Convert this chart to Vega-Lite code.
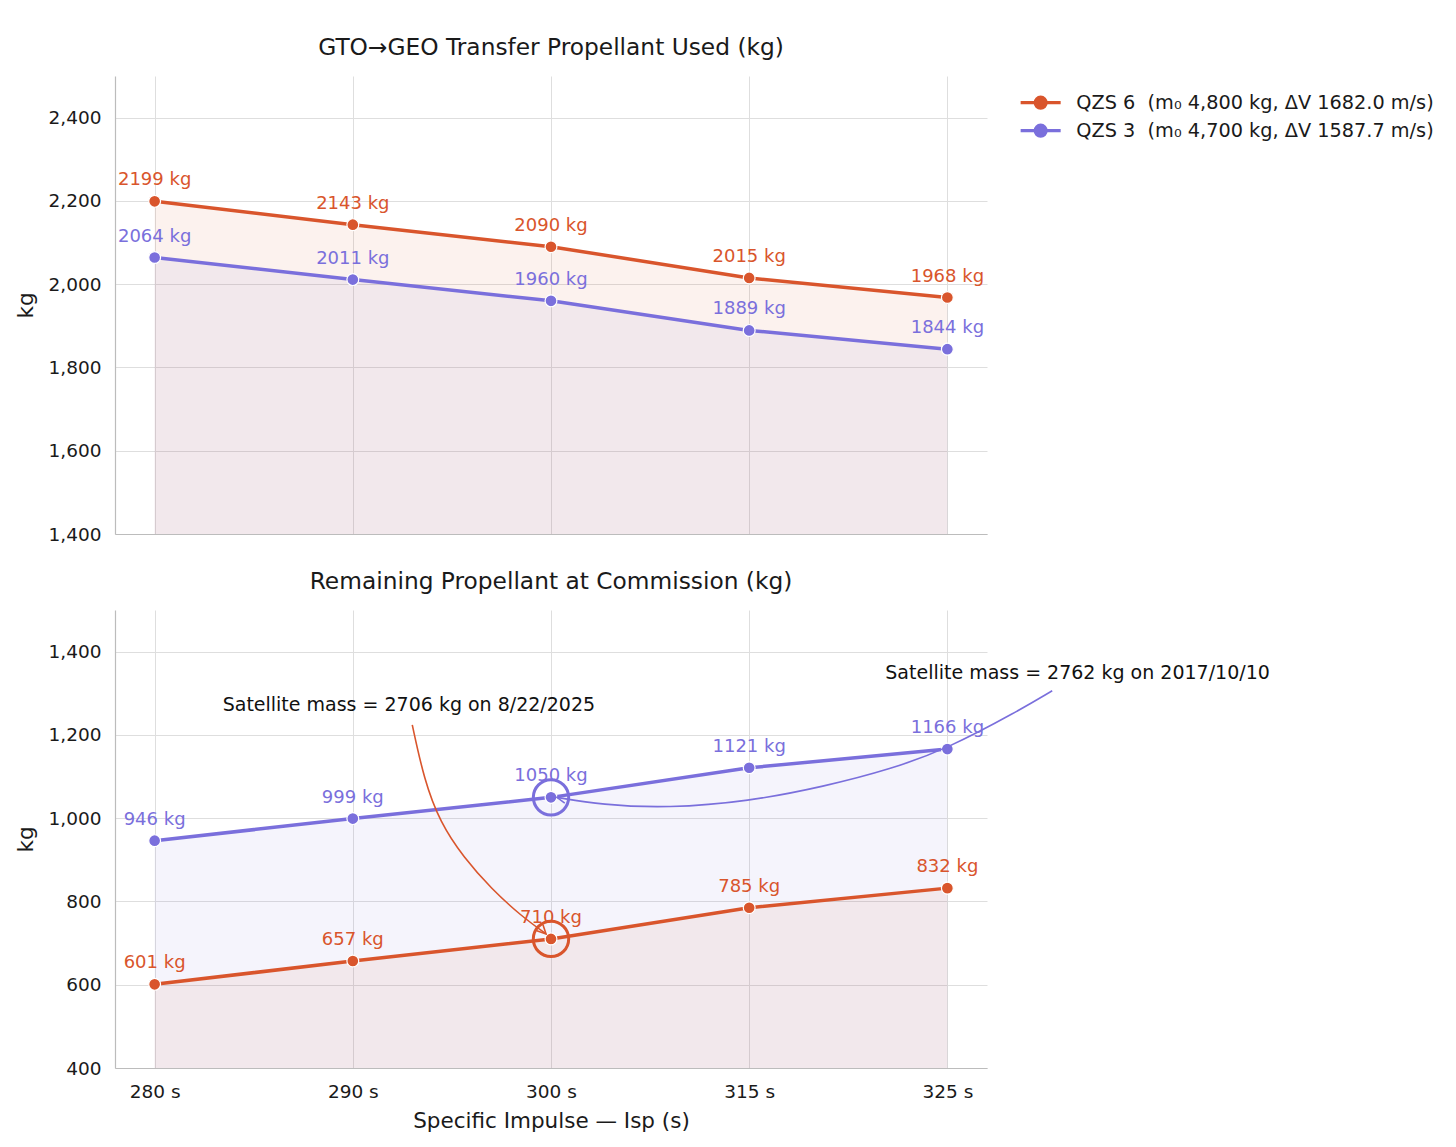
{
  "$schema": "https://vega.github.io/schema/vega-lite/v6.json",
  "background": "white",
  "padding": {"left": 15, "top": 35, "right": 5, "bottom": 5},
  "spacing": 25,
  "config": {
    "font": "DejaVu Sans",
    "view": {"stroke": null},
    "axis": {
      "grid": true,
      "gridColor": "#dedede",
      "gridWidth": 1,
      "domainColor": "#bcbcbc",
      "domainWidth": 1.2,
      "ticks": false,
      "labelFontSize": 18.5,
      "labelColor": "#1a1a1a",
      "titleFontSize": 21.5,
      "titleFontWeight": "normal",
      "titleColor": "#1a1a1a"
    },
    "title": {"fontSize": 23.3, "fontWeight": "normal", "color": "#1a1a1a", "offset": 16},
    "legend": {
      "labelFontSize": 19.3,
      "labelColor": "#1a1a1a",
      "labelLimit": 0,
      "rowPadding": 3,
      "labelOffset": 26,
      "symbolType": "M-3,0L3,0M-0.82,0A0.82,0.82,0,1,1,0.82,0A0.82,0.82,0,1,1,-0.82,0Z",
      "symbolSize": 178,
      "symbolStrokeWidth": 3.2,
      "title": null
    }
  },
  "datasets": {
    "prop": [
      {"isp": "280 s", "sat": "QZS 6", "used": 2199, "remaining": 601},
      {"isp": "290 s", "sat": "QZS 6", "used": 2143, "remaining": 657},
      {"isp": "300 s", "sat": "QZS 6", "used": 2090, "remaining": 710},
      {"isp": "315 s", "sat": "QZS 6", "used": 2015, "remaining": 785},
      {"isp": "325 s", "sat": "QZS 6", "used": 1968, "remaining": 832},
      {"isp": "280 s", "sat": "QZS 3", "used": 2064, "remaining": 946},
      {"isp": "290 s", "sat": "QZS 3", "used": 2011, "remaining": 999},
      {"isp": "300 s", "sat": "QZS 3", "used": 1960, "remaining": 1050},
      {"isp": "315 s", "sat": "QZS 3", "used": 1889, "remaining": 1121},
      {"isp": "325 s", "sat": "QZS 3", "used": 1844, "remaining": 1166}
    ],
    "rings": [
      {"isp": "300 s", "sat": "QZS 6", "val": 710},
      {"isp": "300 s", "sat": "QZS 3", "val": 1050}
    ],
    "curves": [
      {"sat": "QZS 6", "k": 0, "xi": 1.300, "val": 1224},
      {"sat": "QZS 6", "k": 1, "xi": 1.360, "val": 1092},
      {"sat": "QZS 6", "k": 2, "xi": 1.440, "val": 990},
      {"sat": "QZS 6", "k": 3, "xi": 1.560, "val": 905},
      {"sat": "QZS 6", "k": 4, "xi": 1.700, "val": 830},
      {"sat": "QZS 6", "k": 5, "xi": 1.850, "val": 765},
      {"sat": "QZS 6", "k": 6, "xi": 1.975, "val": 722},
      {"sat": "QZS 3", "k": 0, "xi": 4.529, "val": 1306},
      {"sat": "QZS 3", "k": 1, "xi": 4.352, "val": 1256},
      {"sat": "QZS 3", "k": 2, "xi": 4.000, "val": 1167},
      {"sat": "QZS 3", "k": 3, "xi": 3.717, "val": 1118},
      {"sat": "QZS 3", "k": 4, "xi": 3.379, "val": 1076},
      {"sat": "QZS 3", "k": 5, "xi": 2.995, "val": 1040},
      {"sat": "QZS 3", "k": 6, "xi": 2.591, "val": 1024},
      {"sat": "QZS 3", "k": 7, "xi": 2.253, "val": 1032},
      {"sat": "QZS 3", "k": 8, "xi": 2.030, "val": 1050}
    ],
    "heads": [
      {"sat": "QZS 6", "xi": 1.975, "val": 722},
      {"sat": "QZS 3", "xi": 2.030, "val": 1050}
    ],
    "notes": [
      {"note": "Satellite mass = 2706 kg on 8/22/2025", "xi": 1.283, "val": 1273},
      {"note": "Satellite mass = 2762 kg on 2017/10/10", "xi": 4.657, "val": 1348}
    ]
  },
  "vconcat": [
    {
      "width": 872,
      "height": 458,
      "title": "GTO→GEO Transfer Propellant Used (kg)",
      "data": {"name": "prop"},
      "encoding": {
        "x": {
          "field": "isp",
          "type": "ordinal",
          "scale": {"type": "point", "padding": 0.2, "domain": ["280 s", "290 s", "300 s", "315 s", "325 s"]},
          "axis": {"labels": false, "title": null}
        },
        "y": {
          "field": "used",
          "type": "quantitative",
          "stack": null,
          "scale": {"domain": [1400, 2500], "nice": false, "zero": false},
          "axis": {"values": [1400, 1600, 1800, 2000, 2200, 2400], "format": ",d", "title": "kg", "labelPadding": 14, "titlePadding": 11}
        },
        "color": {
          "field": "sat",
          "type": "nominal",
          "scale": {"domain": ["QZS 6", "QZS 3"], "range": ["#d9552c", "#7a6fdc"]},
          "legend": {
            "orient": "none",
            "legendX": 916,
            "legendY": 17,
            "labelExpr": "datum.value == 'QZS 6' ? 'QZS 6\u00a0 (m₀ 4,800 kg, ΔV 1682.0 m/s)' : 'QZS 3\u00a0 (m₀ 4,700 kg, ΔV 1587.7 m/s)'",
            "encode": {
              "symbols": {
                "update": {
                  "fill": {"scale": "color", "field": "value"},
                  "stroke": {"scale": "color", "field": "value"},
                  "strokeWidth": {"value": 3.2},
                  "opacity": {"value": 1}
                }
              }
            }
          }
        }
      },
      "layer": [
        {"mark": {"type": "area", "opacity": 0.08}, "encoding": {"y2": {"datum": 1400}}},
        {"mark": {"type": "line", "strokeWidth": 3.5}},
        {"mark": {"type": "point", "filled": true, "size": 140, "stroke": "white", "strokeWidth": 1.2, "opacity": 1}},
        {"mark": {"type": "text", "dy": -21, "fontSize": 18, "text": {"expr": "format(datum.used, 'd') + ' kg'"}}}
      ]
    },
    {
      "width": 872,
      "height": 458,
      "title": "Remaining Propellant at Commission (kg)",
      "resolve": {"scale": {"x": "independent"}},
      "layer": [
        {
          "data": {"name": "prop"},
          "encoding": {
            "x": {
              "field": "isp",
              "type": "ordinal",
              "scale": {"type": "point", "padding": 0.2, "domain": ["280 s", "290 s", "300 s", "315 s", "325 s"]},
              "axis": {"labelAngle": 0, "labelPadding": 14, "title": "Specific Impulse — Isp (s)", "titlePadding": 10}
            },
            "y": {
              "field": "remaining",
              "type": "quantitative",
              "stack": null,
              "scale": {"domain": [400, 1500], "nice": false, "zero": false},
              "axis": {"values": [400, 600, 800, 1000, 1200, 1400], "format": ",d", "title": "kg", "labelPadding": 14, "titlePadding": 11}
            },
            "color": {"field": "sat", "type": "nominal"}
          },
          "layer": [
            {"mark": {"type": "area", "opacity": 0.08}, "encoding": {"y2": {"datum": 400}}},
            {"mark": {"type": "line", "strokeWidth": 3.5}},
            {"mark": {"type": "point", "filled": true, "size": 140, "stroke": "white", "strokeWidth": 1.2, "opacity": 1}},
            {"mark": {"type": "text", "dy": -21, "fontSize": 18, "text": {"expr": "format(datum.remaining, 'd') + ' kg'"}}},
            {
              "data": {"name": "rings"},
              "mark": {"type": "point", "filled": false, "size": 1250, "strokeWidth": 3, "opacity": 1},
              "encoding": {"y": {"field": "val", "type": "quantitative"}}
            }
          ]
        },
        {
          "encoding": {
            "x": {"field": "xi", "type": "quantitative", "scale": {"domain": [-0.2, 4.2], "nice": false, "zero": false}, "axis": null},
            "y": {
              "field": "val",
              "type": "quantitative",
              "scale": {"domain": [400, 1500], "nice": false, "zero": false},
              "axis": {"values": [400, 600, 800, 1000, 1200, 1400], "format": ",d", "title": "kg", "labelPadding": 14, "titlePadding": 11}
            }
          },
          "layer": [
            {
              "data": {"name": "curves"},
              "mark": {"type": "line", "strokeWidth": 1.6, "interpolate": "basis"},
              "encoding": {"color": {"field": "sat", "type": "nominal"}, "order": {"field": "k", "type": "quantitative"}}
            },
            {
              "data": {"name": "heads"},
              "transform": [{"filter": "datum.sat == 'QZS 6'"}],
              "mark": {"type": "point", "shape": "M-0.55,1.1L0,0L0.55,1.1", "filled": false, "size": 250, "strokeWidth": 1.6, "angle": 135, "opacity": 1},
              "encoding": {"color": {"field": "sat", "type": "nominal"}}
            },
            {
              "data": {"name": "heads"},
              "transform": [{"filter": "datum.sat == 'QZS 3'"}],
              "mark": {"type": "point", "shape": "M-0.55,1.1L0,0L0.55,1.1", "filled": false, "size": 250, "strokeWidth": 1.6, "angle": 280, "opacity": 1},
              "encoding": {"color": {"field": "sat", "type": "nominal"}}
            },
            {
              "data": {"name": "notes"},
              "mark": {"type": "text", "fontSize": 19, "color": "#111111", "align": "center", "baseline": "middle"},
              "encoding": {"text": {"field": "note", "type": "nominal"}}
            }
          ]
        }
      ]
    }
  ]
}
